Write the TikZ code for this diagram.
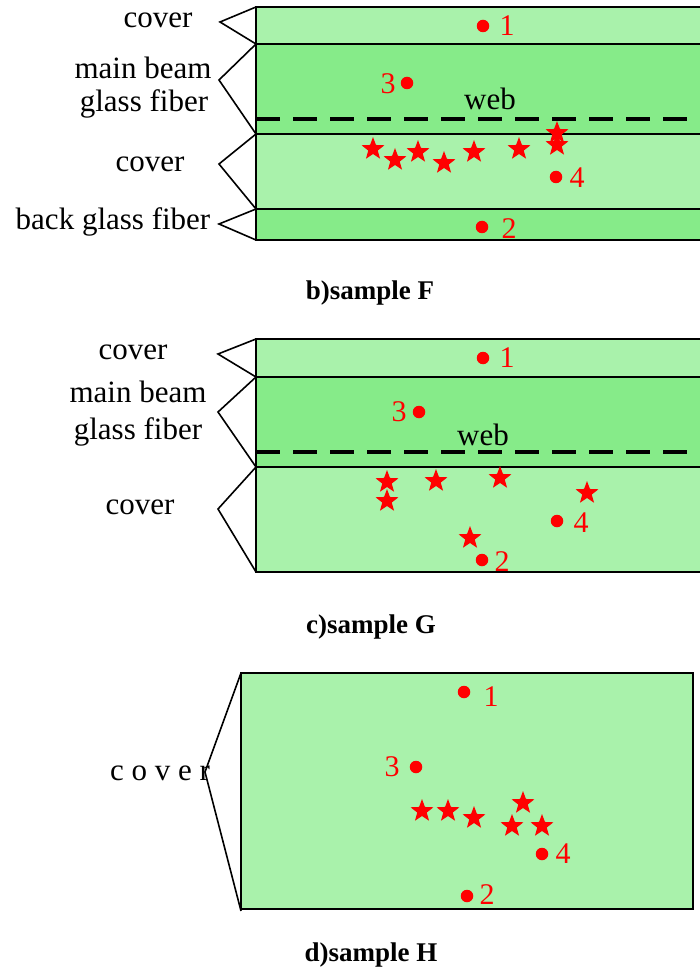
\documentclass[tikz,border=0pt]{standalone}
\usepackage{fontspec}
\setmainfont{Liberation Serif}
\usetikzlibrary{shapes.geometric}

\definecolor{coverGreen}{RGB}{169,242,171}
\definecolor{fiberGreen}{RGB}{134,235,137}

\begin{document}
\begin{tikzpicture}[
        x=1pt, y=-1pt,
        layer/.style={draw=black, line width=1.8pt},
        coverlayer/.style={layer, fill=coverGreen},
        fiberlayer/.style={layer, fill=fiberGreen},
        brace/.style={line width=1.6pt},
        web/.style={line width=3.2pt, dash pattern=on 24pt off 13pt},
        lbl/.style={font=\fontsize{31}{34}\selectfont, inner sep=0pt},
        spot/.style={circle, fill=red, inner sep=0pt, minimum size=12.5pt},
        num/.style={font=\fontsize{30}{33}\selectfont, text=red, inner sep=0pt},
        crack/.style={star, star points=5, star point ratio=2.4,
            fill=red, inner sep=0pt, minimum size=24pt},
        caption/.style={font=\bfseries\fontsize{27}{30}\selectfont}
    ]
        \useasboundingbox (0,0) rectangle (700,973);

        % b) sample F
        \fill[coverGreen] (256,7) rectangle (706,44);
        \fill[fiberGreen] (256,44) rectangle (706,134);
        \fill[coverGreen] (256,134) rectangle (706,209);
        \fill[fiberGreen] (256,209) rectangle (706,240);
        \draw[layer] (706,7) -- (256,7) -- (256,240) -- (706,240);
        \draw[layer] (256,44) -- (706,44);
        \draw[layer] (256,134) -- (706,134);
        \draw[layer] (256,209) -- (706,209);
        \draw[web] (256,119) -- (706,119);

        \coordinate (fTipA) at (220,22);
        \coordinate (fTipB) at (219,80);
        \coordinate (fTipC) at (219,164);
        \coordinate (fTipD) at (219,224);
        \draw[brace] (256,7) -- (fTipA) -- (256,44);
        \draw[brace] (256,44) -- (fTipB) -- (256,134);
        \draw[brace] (256,134) -- (fTipC) -- (256,209);
        \draw[brace] (256,209) -- (fTipD) -- (256,240);

        \node[lbl] (fCover) at (158,20) {cover};
        \node[lbl] (fMain) at (143,68) {main beam};
        \node[lbl] (fGlass) at (144,104) {glass fiber};
        \node[lbl] (fCoverB) at (150,164) {cover};
        \node[lbl] (fBack) at (113,222) {back glass fiber};
        \node[lbl] (fWeb) at (490,99) {web};

        \node[spot] (fP1) at (483,26) {};
        \node[num] (fN1) at (507,26) {1};
        \node[spot] (fP3) at (407,83) {};
        \node[num] (fN3) at (388,84) {3};
        \node[spot] (fP4) at (556,177) {};
        \node[num] (fN4) at (577,178) {4};
        \node[spot] (fP2) at (482,227) {};
        \node[num] (fN2) at (509,229) {2};

        \foreach \x/\y [count=\i] in {373/149, 395/160, 418/152, 444/163,
                474/152, 519/149, 557/133, 557/145}
            \node[crack] (fS\i) at (\x,\y) {};

        \node[caption] (fCap) at (370,293) {b)sample F};

        % c) sample G
        \fill[coverGreen] (256,339) rectangle (706,377);
        \fill[fiberGreen] (256,377) rectangle (706,467);
        \fill[coverGreen] (256,467) rectangle (706,572);
        \draw[layer] (706,339) -- (256,339) -- (256,572) -- (706,572);
        \draw[layer] (256,377) -- (706,377);
        \draw[layer] (256,467) -- (706,467);
        \draw[web] (256,452) -- (706,452);

        \coordinate (gTipA) at (218,354);
        \coordinate (gTipB) at (218,412);
        \coordinate (gTipC) at (218,509);
        \draw[brace] (256,339) -- (gTipA) -- (256,377);
        \draw[brace] (256,377) -- (gTipB) -- (256,467);
        \draw[brace] (256,467) -- (gTipC) -- (256,572);

        \node[lbl] (gCover) at (133,352) {cover};
        \node[lbl] (gMain) at (138,392) {main beam};
        \node[lbl] (gGlass) at (138,432) {glass fiber};
        \node[lbl] (gCoverB) at (140,507) {cover};
        \node[lbl] (gWeb) at (483,435) {web};

        \node[spot] (gP1) at (483,358) {};
        \node[num] (gN1) at (507,358) {1};
        \node[spot] (gP3) at (419,412) {};
        \node[num] (gN3) at (399,412) {3};
        \node[spot] (gP4) at (557,521) {};
        \node[num] (gN4) at (581,523) {4};
        \node[spot] (gP2) at (482,560) {};
        \node[num] (gN2) at (502,562) {2};

        \foreach \x/\y [count=\i] in {387/482, 387/501, 436/481, 500/478,
                587/493, 470/538}
            \node[crack] (gS\i) at (\x,\y) {};

        \node[caption] (gCap) at (371,627) {c)sample G};

        % d) sample H
        \draw[coverlayer] (241,673) rectangle (693,909);
        \coordinate (hTip) at (205,772);
        \draw[brace] (241,673) -- (hTip) -- (241,911);

        \node[lbl] (hCover) at (160,773) {c o v e r};

        \node[spot] (hP1) at (464,692) {};
        \node[num] (hN1) at (491,697) {1};
        \node[spot] (hP3) at (416,767) {};
        \node[num] (hN3) at (392,767) {3};
        \node[spot] (hP4) at (542,854) {};
        \node[num] (hN4) at (563,854) {4};
        \node[spot] (hP2) at (467,896) {};
        \node[num] (hN2) at (487,895) {2};

        \foreach \x/\y [count=\i] in {422/811, 448/811, 474/818, 523/803,
                512/826, 542/826}
            \node[crack] (hS\i) at (\x,\y) {};

        \node[caption] (hCap) at (371,955) {d)sample H};
    \end{tikzpicture}
\end{document}
